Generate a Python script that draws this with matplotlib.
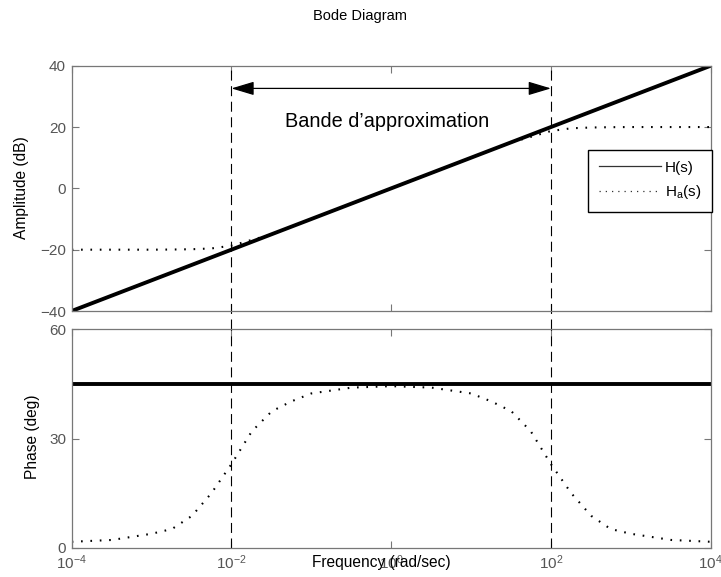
import numpy as np
import matplotlib
matplotlib.use('Agg')
from matplotlib import pyplot as plt
from matplotlib.lines import Line2D
from matplotlib.ticker import NullLocator, FixedLocator

plt.rcParams['font.family'] = ['Liberation Sans', 'DejaVu Sans']
plt.rcParams['mathtext.default'] = 'regular'

# H(s): straight 10 dB/decade line, constant 45 deg phase
w_h = [1e-4, 1e4]
mag_h = [-40, 40]
phase_h = [45, 45]

# Ha(s): approximation
w_a = [1e-4, 3.2e-4, 1e-3, 1.8e-3, 3.2e-3, 5.6e-3, 1e-2, 1.8e-2, 3.2e-2, 5.6e-2,
       0.1, 0.32, 1, 3.2, 10, 18, 32, 56, 100, 180, 320, 560, 1e3, 3.2e3, 1e4]
mag_a = [-20, -20, -20, -19.95, -19.85, -19.6, -18.7, -16.8, -15, -12.5,
         -10, -5, 0, 5, 10, 12.5, 15, 16.8, 18.7, 19.6, 19.85, 19.95, 20, 20, 20]
phase_a = [1.7, 2.2, 3.9, 5.2, 8.8, 15, 23, 32, 37.5, 40.2,
           42.4, 44, 44.4, 44, 42.4, 40.2, 37.5, 32, 23, 15, 8.8, 5.2, 3.9, 2.2, 1.7]

band = [1e-2, 1e2]
mag_ticks = [-40, -20, 0, 20, 40]
phase_ticks = [0, 30, 60]
freq_ticks = [1e-4, 1e-2, 1e0, 1e2, 1e4]

axis_grey = '#777777'
label_grey = '#555555'

fig = plt.figure(figsize=(7.21, 5.77), dpi=100)
ax1 = fig.add_axes([0.0994, 0.461, 0.8863, 0.4251])
ax2 = fig.add_axes([0.0994, 0.0503, 0.8863, 0.379])

dotted = (0, (0.8, 3.7))

ax1.plot(w_h, mag_h, color='black', lw=2.8, solid_capstyle='butt')
ax1.plot(w_a, mag_a, color='black', lw=1.5, linestyle=dotted)
ax2.plot(w_h, phase_h, color='black', lw=2.8, solid_capstyle='butt')
ax2.plot(w_a, phase_a, color='black', lw=1.5, linestyle=dotted)

for ax, ylim, yt in [(ax1, (-40, 40), mag_ticks), (ax2, (0, 60), phase_ticks)]:
    ax.set_xscale('log')
    ax.set_xlim(1e-4, 1e4)
    ax.set_ylim(*ylim)
    ax.xaxis.set_major_locator(FixedLocator(freq_ticks))
    ax.xaxis.set_minor_locator(NullLocator())
    ax.set_yticks(yt)
    ax.tick_params(direction='in', length=5, width=0.8, color=axis_grey,
                   labelcolor=label_grey, labelsize=11, top=True, right=True, pad=4)
    for s in ax.spines.values():
        s.set_color(axis_grey)
        s.set_linewidth(0.9)

ax1.tick_params(labelbottom=False)

# band limits, crossing the gap between the two panels
for f in band:
    ax1.axvline(f, ymin=-0.075, ymax=1, color='black', lw=0.8, dashes=(9, 5), clip_on=False)
    ax2.axvline(f, color='black', lw=0.8, dashes=(9, 5))

ax1.annotate('', xy=(band[0], 32.6), xytext=(band[1], 32.6),
             arrowprops=dict(arrowstyle='<|-|>,head_length=1.0,head_width=0.3',
                             color='black', lw=0.9, shrinkA=0, shrinkB=0,
                             mutation_scale=14))
ax1.text(0.88, 21.7, 'Bande d\u2019approximation', ha='center', va='center', fontsize=14.3)

handles = [Line2D([], [], color='#333333', lw=0.9),
           Line2D([], [], color='#333333', lw=0.9, linestyle=(0, (1, 4)))]
leg = ax1.legend(handles, ['H(s)', 'H$_a$(s)'], loc='upper right',
                 bbox_to_anchor=(1.002, 0.656), borderaxespad=0, fancybox=False,
                 handlelength=4.05, fontsize=11, framealpha=1, borderpad=0.7,
                 labelspacing=0.55, handletextpad=0.26)
leg.get_frame().set_edgecolor('black')
leg.get_frame().set_linewidth(1.0)

fig.text(21.7 / 721, 1 - 188 / 577, 'Amplitude (dB)', rotation=90,
         ha='center', va='center', fontsize=11.2)
fig.text(32.5 / 721, 1 - 437 / 577, 'Phase (deg)', rotation=90,
         ha='center', va='center', fontsize=11.2)
fig.text(381 / 721, 1 - 563 / 577, 'Frequency (rad/sec)', ha='center', va='center', fontsize=11.2)
fig.text(360 / 721, 1 - 16 / 577, 'Bode Diagram', ha='center', va='center', fontsize=10.5)

fig.savefig('out.png', dpi=100)
